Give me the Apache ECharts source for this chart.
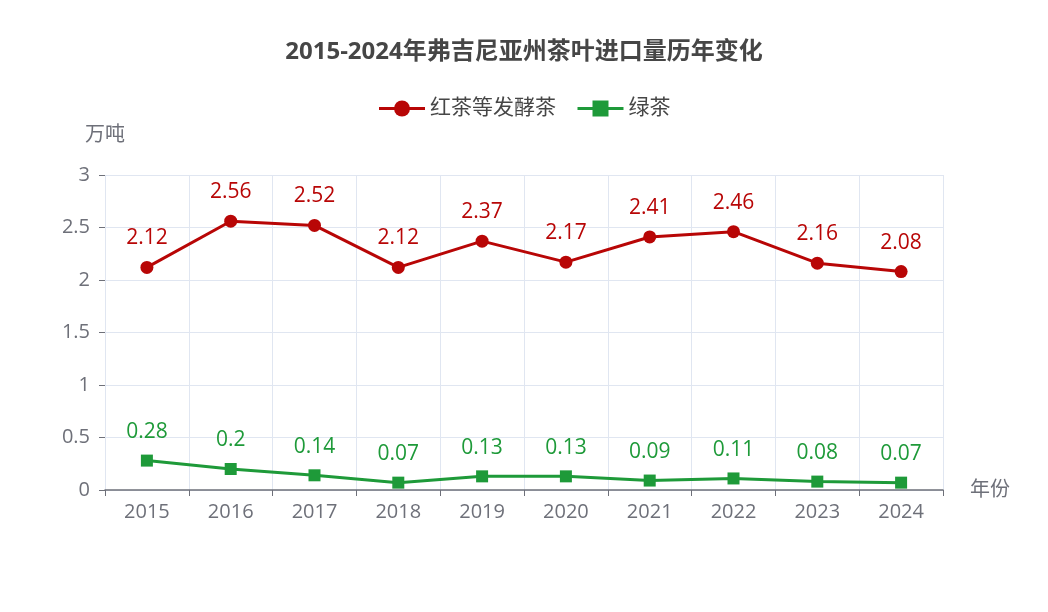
<!DOCTYPE html>
<html>
<head>
<meta charset="utf-8">
<script src="https://cdn.jsdelivr.net/npm/echarts@6/dist/echarts.min.js"></script>
<style>
  html, body { margin: 0; padding: 0; background: #fff; }
  #main { width: 1048px; height: 612px; }
</style>
</head>
<body>
<div id="main"></div>
<script>
// 数据
var years = ['2015', '2016', '2017', '2018', '2019', '2020', '2021', '2022', '2023', '2024'];
var blackTea = [2.12, 2.56, 2.52, 2.12, 2.37, 2.17, 2.41, 2.46, 2.16, 2.08];
var greenTea = [0.28, 0.2, 0.14, 0.07, 0.13, 0.13, 0.09, 0.11, 0.08, 0.07];

var chart = echarts.init(document.getElementById('main'));
var font = '"Open Sans", "Noto Sans CJK SC", sans-serif';

var option = {
    textStyle: { fontFamily: font },
    title: {
        text: '2015-2024年弗吉尼亚州茶叶进口量历年变化',
        left: 'center',
        top: 35,
        textStyle: { fontSize: 24, fontWeight: 'bold', color: '#464646', fontFamily: font }
    },
    legend: {
        top: 93,
        left: 'center',
        itemWidth: 46,
        itemHeight: 20,
        itemGap: 20,
        lineStyle: { width: 3 },
        textStyle: { fontSize: 21, color: '#464646', fontFamily: font },
        data: ['红茶等发酵茶', '绿茶']
    },
    grid: { left: 105, right: 105, top: 175, bottom: 122 },
    xAxis: {
        type: 'category',
        data: years,
        name: '年份',
        nameGap: 27,
        nameTextStyle: { fontSize: 20, color: '#6E7079', verticalAlign: 'middle', fontFamily: font },
        axisLine: { lineStyle: { color: '#6E7079', width: 1.5 } },
        axisTick: { show: true, length: 6 },
        axisLabel: { fontSize: 20, color: '#6E7079', margin: 12, fontFamily: font },
        splitLine: { show: true, lineStyle: { color: '#E0E6F1' } }
    },
    yAxis: {
        type: 'value',
        min: 0,
        max: 3,
        interval: 0.5,
        name: '万吨',
        nameGap: 30,
        nameTextStyle: { fontSize: 20, color: '#6E7079', align: 'center', fontFamily: font },
        axisLine: { show: false },
        axisTick: { show: true, length: 6, lineStyle: { color: '#6E7079' } },
        axisLabel: { fontSize: 20, color: '#6E7079', margin: 15, fontFamily: font },
        splitLine: { lineStyle: { color: '#E0E6F1' } }
    },
    series: [
        {
            name: '红茶等发酵茶',
            type: 'line',
            data: blackTea,
            symbol: 'circle',
            symbolSize: 13,
            color: '#B80606',
            lineStyle: { width: 3 },
            label: { show: true, position: 'top', distance: 12, fontSize: 21, color: '#B80606', fontFamily: font }
        },
        {
            name: '绿茶',
            type: 'line',
            data: greenTea,
            symbol: 'rect',
            symbolSize: 12,
            color: '#1E9A39',
            lineStyle: { width: 3 },
            label: { show: true, position: 'top', distance: 12, fontSize: 21, color: '#1E9A39', fontFamily: font }
        }
    ]
};

chart.setOption(option);
</script>
</body>
</html>
